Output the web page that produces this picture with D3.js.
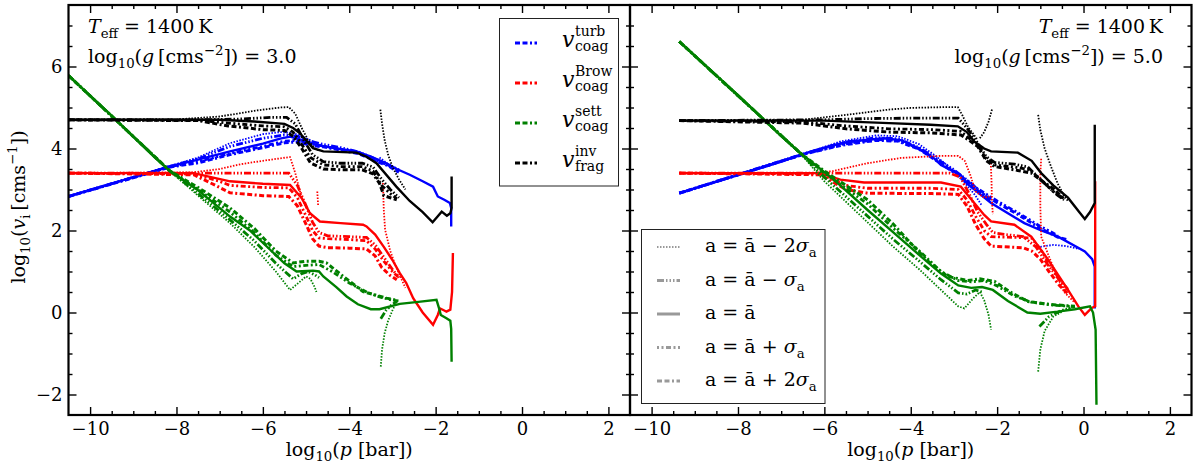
<!DOCTYPE html>
<html>
<head>
<meta charset="utf-8">
<script src="https://cdn.jsdelivr.net/npm/d3@7"></script>
<style>
  body { margin: 0; background: #fff; }
  svg text { font-family: 'DejaVu Serif', 'Liberation Serif', serif !important; fill: #000; }
</style>
</head>
<body>
<div class="chart"></div>
<script>
// line styles, in order: a-2s, a-s, a, a+s, a+2s  (null marks a gap)

// ---- log g = 3.0 ----
const g3Turb = [
  [[-10.5,2.83],[-8.14,3.57],[-7.5,3.78],[-6.76,4.13],[-6,4.35],[-5.6,4.4],[-5.3,4.38],[-5.0,4.25],[-4.8,4.15], null, [-3.3,3.78],[-3.1,3.62],[-2.9,3.5]],
  [[-10.5,2.83],[-8.14,3.57],[-7.5,3.75],[-6.76,4.05],[-6,4.25],[-5.5,4.33],[-5.2,4.3],[-4.9,4.18],[-4.6,4.1],[-4.2,4.02],[-3.8,3.92],[-3.4,3.75],[-3.1,3.6],[-2.85,3.48]],
  [[-10.5,2.83],[-8.14,3.57],[-7.5,3.73],[-6.76,3.93],[-6,4.12],[-5.6,4.24],[-5.37,4.29],[-5.0,4.18],[-4.76,4.09],[-4.3,4.0],[-3.83,3.93],[-3.5,3.8],[-3.14,3.64],[-2.9,3.5],[-2.6,3.36],[-2.3,3.2],[-2.06,3.07],[-1.95,2.83],[-1.8,2.75],[-1.67,2.67],[-1.64,2.55],[-1.64,2.1]],
  [[-10.5,2.83],[-8.14,3.56],[-7.5,3.68],[-6.76,3.88],[-6,4.05],[-5.5,4.18],[-5.2,4.2],[-4.9,4.12],[-4.6,4.06],[-4.2,3.98],[-3.8,3.9],[-3.4,3.72],[-3.1,3.6],[-2.85,3.45]],
  [[-10.5,2.83],[-8.14,3.55],[-7.5,3.65],[-6.76,3.85],[-6,4.02],[-5.5,4.14],[-5.2,4.16],[-4.9,4.08],[-4.6,4.04],[-4.2,3.96],[-3.8,3.88],[-3.4,3.7],[-3.1,3.58],[-2.85,3.42]]
];
const g3Brow = [
  [[-10.5,3.4],[-7.6,3.42],[-7,3.5],[-6.5,3.62],[-6,3.7],[-5.6,3.76],[-5.37,3.79],[-5.25,3.4],[-5.1,2.79],[-4.95,2.5],[-4.85,2.35], null, [-4.74,2.95],[-4.72,2.6], null, [-3.22,3.16],[-3.2,2.5],[-3.17,2.02],[-3.05,1.5],[-2.95,1.2],[-2.83,0.9],[-2.7,0.6]],
  [[-10.5,3.4],[-7,3.4],[-5.4,3.4],[-5.2,3.1],[-5.0,2.6],[-4.85,2.2],[-4.7,1.95],[-4.5,1.87],[-4.0,1.85],[-3.6,1.83],[-3.4,1.65],[-3.2,1.35],[-3.0,1.05],[-2.85,0.85]],
  [[-10.5,3.4],[-7.6,3.4],[-7.2,3.3],[-6.76,3.2],[-6,3.14],[-5.37,3.11],[-5.1,2.79],[-4.91,2.42],[-4.68,2.22],[-4.2,2.18],[-3.68,2.14],[-3.6,2.1],[-3.4,1.9],[-3.2,1.6],[-3.0,1.28],[-2.83,0.96],[-2.68,0.72],[-2.52,0.35],[-2.3,0.0],[-2.06,-0.3],[-1.95,-0.06],[-1.9,0.1],[-1.8,0.05],[-1.75,0.02],[-1.66,0.07],[-1.62,0.5],[-1.6,1.45]],
  [[-10.5,3.4],[-7.6,3.38],[-7,3.2],[-6.76,3.1],[-6,3.05],[-5.4,3.04],[-5.2,2.8],[-5.0,2.35],[-4.85,2.0],[-4.7,1.82],[-4.5,1.8],[-4.0,1.78],[-3.6,1.75],[-3.4,1.55],[-3.2,1.25],[-3.0,1.0],[-2.85,0.85]],
  [[-10.5,3.4],[-7.6,3.36],[-7,3.05],[-6.76,2.92],[-6,2.85],[-5.4,2.83],[-5.2,2.6],[-5.0,2.15],[-4.85,1.8],[-4.7,1.62],[-4.5,1.58],[-4.0,1.57],[-3.6,1.55],[-3.4,1.38],[-3.25,1.1],[-3.05,0.9],[-2.9,0.8]]
];
const g3Sett = [
  [[-10.5,5.78],[-8.15,3.45],[-7.5,2.85],[-6.76,2.18],[-6.2,1.6],[-5.7,1.0],[-5.37,0.55],[-5.2,0.7],[-5.0,0.88],[-4.9,0.82],[-4.8,0.62],[-4.76,0.5], null, [-3.27,-1.32],[-3.24,-0.9],[-3.18,-0.5],[-3.1,-0.2],[-3.0,0.05],[-2.9,0.27]],
  [[-10.5,5.78],[-8.15,3.45],[-7.5,2.9],[-6.76,2.26],[-6.2,1.75],[-5.7,1.2],[-5.3,0.82],[-5.1,0.95],[-4.95,1.0],[-4.8,0.92],[-4.7,0.85], null, [-3.27,-0.15],[-3.15,0.05],[-3.0,0.2],[-2.9,0.27]],
  [[-10.5,5.78],[-9.5,4.8],[-8.5,3.78],[-8.15,3.45],[-7.5,2.98],[-6.76,2.34],[-6.3,2.0],[-5.8,1.5],[-5.5,1.2],[-5.22,1.0],[-4.84,1.02],[-4.7,1.0],[-4.6,0.88],[-4.3,0.62],[-4.06,0.39],[-3.8,0.2],[-3.5,0.08],[-3.3,0.08],[-2.83,0.21],[-2.4,0.26],[-1.98,0.31],[-1.92,0.1],[-1.88,-0.06],[-1.75,-0.14],[-1.66,-0.2],[-1.64,-0.4],[-1.63,-1.2]],
  [[-10.5,5.78],[-8.15,3.45],[-7.5,3.0],[-6.76,2.45],[-6.2,1.95],[-5.7,1.4],[-5.3,1.12],[-5.0,1.15],[-4.7,1.17],[-4.4,1.0],[-4.0,0.72],[-3.6,0.5],[-3.3,0.38],[-3.0,0.3],[-2.85,0.28]],
  [[-10.5,5.78],[-8.15,3.45],[-7.5,3.05],[-6.76,2.55],[-6.2,2.05],[-5.7,1.5],[-5.3,1.21],[-5.0,1.25],[-4.7,1.25],[-4.53,1.21],[-4.1,0.85],[-3.68,0.51],[-3.14,0.35],[-2.9,0.3]]
];
const g3Frag = [
  [[-10.5,4.7],[-8,4.71],[-7,4.78],[-6.2,4.92],[-5.6,5.0],[-5.4,5.01],[-5.25,4.85],[-5.1,4.5],[-4.95,4.2],[-4.8,4.0],[-4.7,3.95], null, [-3.28,4.95],[-3.24,4.6],[-3.18,4.2],[-3.1,3.85],[-3.0,3.55],[-2.85,3.25],[-2.7,3.0]],
  [[-10.5,4.7],[-7.5,4.7],[-6.5,4.72],[-5.8,4.76],[-5.45,4.76],[-5.25,4.6],[-5.05,4.2],[-4.85,3.85],[-4.6,3.68],[-4.2,3.64],[-3.7,3.64],[-3.45,3.55],[-3.25,3.25],[-3.05,3.0],[-2.85,2.8]],
  [[-10.5,4.7],[-7,4.7],[-6.2,4.66],[-5.5,4.6],[-5.3,4.5],[-5.14,4.37],[-4.84,4.01],[-4.6,3.93],[-3.83,3.9],[-3.6,3.8],[-3.37,3.64],[-2.91,3.07],[-2.6,2.72],[-2.3,2.45],[-2.07,2.2],[-1.95,2.35],[-1.86,2.46],[-1.74,2.36],[-1.66,2.42],[-1.63,2.55],[-1.63,3.32]],
  [[-10.5,4.7],[-7.5,4.69],[-6.8,4.62],[-6,4.55],[-5.5,4.53],[-5.3,4.4],[-5.1,4.1],[-4.9,3.78],[-4.6,3.6],[-4.2,3.56],[-3.7,3.56],[-3.45,3.45],[-3.25,3.1],[-3.05,2.9],[-2.9,2.78]],
  [[-10.5,4.7],[-7.5,4.68],[-6.8,4.55],[-6,4.46],[-5.5,4.44],[-5.3,4.3],[-5.1,4.0],[-4.9,3.65],[-4.6,3.5],[-4.2,3.48],[-3.7,3.48],[-3.45,3.38],[-3.3,3.15],[-3.2,2.85],[-3.05,2.8],[-2.9,2.75]]
];

// ---- log g = 5.0 ----
const g5Turb = [
  [[-9.36,2.91],[-6.48,3.87],[-5.6,4.18],[-4.8,4.32],[-4.3,4.3],[-3.8,4.1],[-3.4,3.8],[-3.0,3.45],[-2.7,3.1],[-2.5,2.85],[-2.35,2.6], null, [-1.0,1.6],[-0.7,1.65],[-0.4,1.62],[-0.1,1.55]],
  [[-9.36,2.91],[-6.48,3.87],[-5.6,4.14],[-4.8,4.26],[-4.3,4.24],[-3.8,4.02],[-3.4,3.75],[-3.0,3.48],[-2.6,3.15],[-2.3,2.85],[-2.1,2.65]],
  [[-9.36,2.91],[-8,3.35],[-7,3.68],[-6.48,3.87],[-5.8,4.08],[-5.4,4.17],[-4.62,4.25],[-4.2,4.2],[-3.8,3.98],[-3.46,3.76],[-3.3,3.6],[-2.84,3.35],[-2.7,3.15],[-2.14,2.67],[-1.37,2.18],[-0.98,2.0],[-0.59,1.85],[0.03,1.49],[0.2,1.3],[0.26,1.12],[0.26,0.1]],
  [[-9.36,2.91],[-6.48,3.86],[-5.6,4.1],[-4.8,4.22],[-4.3,4.2],[-3.8,4.0],[-3.4,3.72],[-3.0,3.45],[-2.5,3.05],[-2.0,2.72],[-1.5,2.42],[-1.0,2.1],[-0.6,1.88]],
  [[-9.36,2.91],[-6.48,3.86],[-5.6,4.08],[-4.8,4.2],[-4.3,4.18],[-3.8,3.98],[-3.4,3.7],[-3.0,3.42],[-2.5,3.0],[-2.0,2.68],[-1.5,2.38],[-1.0,2.05],[-0.6,1.84],[-0.4,1.78]]
];
const g5Brow = [
  [[-9.36,3.4],[-6.3,3.4],[-5.8,3.45],[-5.01,3.64],[-4.23,3.77],[-3.3,3.82],[-2.9,3.82],[-2.75,3.7],[-2.62,3.35],[-2.5,2.95],[-2.3,2.8],[-2.18,2.83], null, [-2.15,3.72],[-2.13,3.2],[-2.12,2.7],[-2.1,2.4], null, [-0.98,3.75],[-1.0,3.4],[-1.0,2.6],[-0.98,1.85],[-0.7,1.1],[-0.45,0.5],[-0.2,0.24]],
  [[-9.36,3.4],[-3.1,3.4],[-2.85,3.3],[-2.65,2.9],[-2.45,2.45],[-2.25,2.15],[-2.1,1.95],[-1.8,1.9],[-1.4,1.85],[-1.1,1.6],[-0.85,1.2],[-0.6,0.85],[-0.4,0.55]],
  [[-9.36,3.4],[-6.1,3.4],[-5.63,3.24],[-5.08,3.17],[-4,3.17],[-3.3,3.17],[-2.84,3.07],[-2.53,2.67],[-2.3,2.38],[-2.14,2.22],[-1.6,2.14],[-1.21,1.85],[-0.82,1.29],[-0.36,0.55],[-0.12,0.15],[0.03,-0.06],[0.19,0.11],[0.27,0.15],[0.27,3.2]],
  [[-9.36,3.4],[-6.1,3.38],[-5.5,3.1],[-5.0,3.03],[-3.5,3.03],[-2.9,3.0],[-2.7,2.75],[-2.5,2.35],[-2.3,2.0],[-2.14,1.85],[-1.21,1.82],[-1.0,1.55],[-0.8,1.2],[-0.55,0.8],[-0.35,0.55]],
  [[-9.36,3.4],[-6.1,3.36],[-5.5,3.0],[-5.0,2.91],[-3.5,2.9],[-2.9,2.88],[-2.7,2.6],[-2.5,2.15],[-2.3,1.8],[-2.14,1.62],[-1.4,1.58],[-1.2,1.5],[-1.0,1.3],[-0.8,1.0],[-0.55,0.65],[-0.35,0.45]]
];
const g5Sett = [
  [[-9.36,6.61],[-6.56,3.89],[-6.0,3.2],[-5.0,2.2],[-4.4,1.6],[-3.8,1.05],[-3.3,0.55],[-2.9,0.15],[-2.76,0.1],[-2.55,0.35],[-2.4,0.5],[-2.3,0.3],[-2.2,-0.05],[-2.14,-0.42], null, [-1.05,-1.44],[-1.0,-0.9],[-0.9,-0.45],[-0.7,-0.1],[-0.45,0.05],[-0.2,0.15]],
  [[-9.36,6.61],[-6.56,3.89],[-6.0,3.3],[-5.0,2.35],[-4.4,1.78],[-3.8,1.25],[-3.3,0.8],[-2.9,0.48],[-2.7,0.45],[-2.5,0.55],[-2.35,0.5], null, [-1.02,-0.34],[-0.8,-0.1],[-0.5,0.05],[-0.2,0.15]],
  [[-9.36,6.61],[-8,5.3],[-7,4.3],[-6.56,3.89],[-5.78,3.24],[-5.0,2.5],[-4.39,1.94],[-3.8,1.4],[-3.3,0.95],[-2.9,0.66],[-2.6,0.6],[-2.35,0.62],[-2.1,0.55],[-1.75,0.28],[-1.3,0.0],[-1.0,-0.03],[-0.6,0.02],[-0.2,0.08],[0.15,0.15],[0.22,0.0],[0.28,-0.42],[0.3,-2.25]],
  [[-9.36,6.61],[-6.56,3.89],[-6.0,3.4],[-5.0,2.65],[-4.4,2.05],[-3.8,1.5],[-3.3,1.0],[-2.9,0.78],[-2.6,0.75],[-2.3,0.78],[-2.0,0.65],[-1.6,0.4],[-1.2,0.25],[-0.7,0.18],[-0.3,0.15]],
  [[-9.36,6.61],[-6.56,3.89],[-6.0,3.45],[-5.0,2.75],[-4.4,2.15],[-4.08,1.78],[-3.6,1.25],[-3.15,0.88],[-2.68,0.78],[-2.4,0.82],[-2.06,0.76],[-1.7,0.5],[-1.29,0.27],[-0.8,0.2],[-0.2,0.15]]
];
const g5Frag = [
  [[-9.36,4.68],[-6.5,4.7],[-5.5,4.82],[-4.5,4.95],[-4,4.99],[-3.2,5.01],[-2.91,5.01],[-2.8,4.8],[-2.68,4.54],[-2.55,4.35],[-2.45,4.21], null, [-2.12,4.95],[-2.2,4.65],[-2.3,4.4],[-2.4,4.25], null, [-1.05,4.82],[-1.0,4.45],[-0.9,4.0],[-0.75,3.55],[-0.6,3.15],[-0.45,2.85],[-0.36,2.72]],
  [[-9.36,4.68],[-6,4.7],[-5,4.73],[-4,4.74],[-2.9,4.74],[-2.7,4.5],[-2.45,4.13],[-2.25,3.8],[-2.06,3.66],[-1.6,3.62],[-1.29,3.55],[-1.05,3.3],[-0.8,3.05],[-0.59,2.85],[-0.45,2.75]],
  [[-9.36,4.68],[-6,4.68],[-4.5,4.62],[-3.54,4.58],[-2.91,4.54],[-2.7,4.4],[-2.53,4.17],[-2.3,4.0],[-2.14,3.93],[-1.52,3.9],[-1.2,3.7],[-0.98,3.4],[-0.7,3.1],[-0.36,2.8],[-0.1,2.45],[0.03,2.28],[0.15,2.45],[0.26,2.67],[0.26,4.58]],
  [[-9.36,4.68],[-6.5,4.65],[-5.5,4.55],[-4.5,4.48],[-3.5,4.46],[-2.85,4.42],[-2.65,4.25],[-2.45,4.08],[-2.25,3.75],[-2.06,3.6],[-1.6,3.55],[-1.25,3.48],[-1.0,3.25],[-0.7,2.95],[-0.45,2.78]],
  [[-9.36,4.68],[-6.5,4.62],[-5.5,4.48],[-4.5,4.4],[-3.5,4.38],[-2.84,4.33],[-2.65,4.2],[-2.45,4.05],[-2.25,3.7],[-2.06,3.56],[-1.6,3.48],[-1.21,3.4],[-0.95,3.2],[-0.67,3.0],[-0.44,2.75]]
];

const xMajorTicks = [-10, -8, -6, -4, -2, 0, 2];
const yMajorTicks = [-2, 0, 2, 4, 6];
const quantityNames = ['turb', 'Brow', 'sett', 'inv'];
const quantitySubs = ['coag', 'coag', 'coag', 'frag'];
const sizeLabels = ['a = ā − 2', 'a = ā − ', 'a = ā', 'a = ā + ', 'a = ā + 2'];
const gravityLabels = ['3.0', '5.0'];

const colors = ['#0000ff', '#ff0000', '#008000', '#000000'];
const dashes = ['1.5,1.5', '7,2,1.5,2,1.5,2,1.5,2', null, '2,2.5,2,2.5,5,2.5', '5,2.5,5,2.5,2,2.5'];
const widths = [1.8, 2.8, 2.4, 2.8, 3.0];
const serif = "'DejaVu Serif', 'Liberation Serif', serif";

const svg = d3.select('.chart').append('svg').attr('width', 1200).attr('height', 469)
  .attr('font-family', serif);

const plotTop = 5, plotBottom = 415;
const panels = [
  { x0: 68.5, x1: 630, data: [g3Turb, g3Brow, g3Sett, g3Frag] },
  { x0: 630, x1: 1191.5, data: [g5Turb, g5Brow, g5Sett, g5Frag] }
];

const fmt = (d) => (d < 0 ? '\u2212' + Math.abs(d) : '' + d);

// write text with italic / sub / sup pieces
function mathText(g, x, y, parts, size, anchor) {
  const t = g.append('text').attr('x', x).attr('y', y)
    .attr('font-family', serif)
    .attr('font-size', size).attr('text-anchor', anchor || 'start');
  let shift = 0;
  parts.forEach(([s, kind]) => {
    const sp = t.append('tspan').text(s);
    let target = 0;
    if (kind === 'sub') target = size * 0.28;
    if (kind === 'sup') target = -size * 0.4;
    if (target !== shift) sp.attr('dy', target - shift);
    shift = target;
    if (kind === 'sub' || kind === 'sup') sp.attr('font-size', size * 0.7);
    if (kind === 'i') sp.attr('font-style', 'italic');
  });
  return t;
}

panels.forEach((p, pi) => {
  const x = d3.scaleLinear().domain([-10.5, 2.5]).range([p.x0, p.x1]);
  const y = d3.scaleLinear().domain([-2.5, 7.5]).range([plotBottom, plotTop]);
  const g = svg.append('g');

  g.append('clipPath').attr('id', 'clip' + pi)
    .append('rect').attr('x', p.x0).attr('y', plotTop).attr('width', p.x1 - p.x0).attr('height', plotBottom - plotTop);

  const line = d3.line().defined((d) => d !== null).x((d) => x(d[0])).y((d) => y(d[1]));
  const plot = g.append('g').attr('clip-path', 'url(#clip' + pi + ')');

  // curves: per quantity, dashed styles first then the solid one
  p.data.forEach((curves, qi) => {
    [0, 1, 3, 4, 2].forEach((si) => {
      plot.append('path')
        .attr('d', line(curves[si]))
        .attr('fill', 'none')
        .attr('stroke', colors[qi])
        .attr('stroke-width', widths[si])
        .attr('stroke-dasharray', dashes[si]);
    });
  });

  // axes (ticks pointing inward on all four sides)
  const xMinor = d3.range(-20, 5).map((i) => i / 2).filter((v) => v % 2 !== 0);
  const yMinor = d3.range(-4, 15).map((i) => i / 2).filter((v) => v % 2 !== 0);

  const addAxis = (axis, tx, ty, labels) => {
    const a = g.append('g').attr('transform', `translate(${tx},${ty})`).call(axis);
    a.select('.domain').remove();
    a.selectAll('line').attr('stroke-width', 1.4);
    a.attr('font-family', serif).attr('font-size', 18);
    if (!labels) a.selectAll('text').remove();
  };
  addAxis(d3.axisBottom(x).tickValues(xMajorTicks).tickSizeInner(-8).tickSizeOuter(0).tickPadding(7).tickFormat(fmt), 0, plotBottom, true);
  addAxis(d3.axisBottom(x).tickValues(xMinor).tickSizeInner(-4).tickSizeOuter(0), 0, plotBottom, false);
  addAxis(d3.axisTop(x).tickValues(xMajorTicks).tickSizeInner(-8).tickSizeOuter(0), 0, plotTop, false);
  addAxis(d3.axisTop(x).tickValues(xMinor).tickSizeInner(-4).tickSizeOuter(0), 0, plotTop, false);
  addAxis(d3.axisLeft(y).tickValues(yMajorTicks).tickSizeInner(-8).tickSizeOuter(0).tickPadding(6).tickFormat(fmt), p.x0, 0, pi === 0);
  addAxis(d3.axisLeft(y).tickValues(yMinor).tickSizeInner(-4).tickSizeOuter(0), p.x0, 0, false);
  addAxis(d3.axisRight(y).tickValues(yMajorTicks).tickSizeInner(-8).tickSizeOuter(0), p.x1, 0, false);
  addAxis(d3.axisRight(y).tickValues(yMinor).tickSizeInner(-4).tickSizeOuter(0), p.x1, 0, false);

  g.append('rect').attr('x', p.x0).attr('y', plotTop).attr('width', p.x1 - p.x0).attr('height', plotBottom - plotTop)
    .attr('fill', 'none').attr('stroke', '#000').attr('stroke-width', 2.2);

  // x axis title
  mathText(g, (p.x0 + p.x1) / 2, 456, [['log', 'n'], ['10', 'sub'], ['(', 'n'], ['p', 'i'], [' [bar])', 'n']], 19, 'middle');

  // annotation
  const ax = pi === 0 ? 88 : 1163;
  const anchor = pi === 0 ? 'start' : 'end';
  mathText(g, ax, 33, [['T', 'i'], ['eff', 'sub'], [' = 1400\u2009K', 'n']], 19, anchor);
  mathText(g, ax, 63, [['log', 'n'], ['10', 'sub'], ['(', 'n'], ['g', 'i'], ['\u2009[cms', 'n'], ['\u22122', 'sup'], [']) = ' + gravityLabels[pi], 'n']], 19, anchor);
});

// y axis title
mathText(svg.append('g').attr('transform', 'translate(25,207) rotate(-90)'), 0, 0,
  [['log', 'n'], ['10', 'sub'], ['(', 'n'], ['v', 'i'], ['i', 'sub'], ['\u2009[cms', 'n'], ['\u22121', 'sup'], ['])', 'n']], 19, 'middle');

// legend: quantities
const leg1 = svg.append('g');
leg1.append('rect').attr('x', 499.5).attr('y', 18.5).attr('width', 119).attr('height', 167.5)
  .attr('fill', '#fff').attr('stroke', '#222').attr('stroke-width', 1);
quantityNames.forEach((name, i) => {
  const cy = 43 + i * 40;
  leg1.append('line').attr('x1', 515).attr('x2', 537).attr('y1', cy).attr('y2', cy)
    .attr('stroke', colors[i]).attr('stroke-width', 3).attr('stroke-dasharray', '5,2.5,5,2.5,2,2.5');
  leg1.append('text').attr('x', 562).attr('y', cy + 4).attr('font-family', serif).attr('font-size', 22).attr('font-style', 'italic').text('v');
  leg1.append('text').attr('x', 575).attr('y', cy - 7).attr('font-family', serif).attr('font-size', 14).text(name);
  leg1.append('text').attr('x', 575).attr('y', cy + 8).attr('font-family', serif).attr('font-size', 14).text(quantitySubs[i]);
});

// legend: size styles
const leg2 = svg.append('g');
leg2.append('rect').attr('x', 641.5).attr('y', 229.5).attr('width', 183.5).attr('height', 174)
  .attr('fill', '#fff').attr('stroke', '#222').attr('stroke-width', 1);
sizeLabels.forEach((lab, i) => {
  const cy = 247 + i * 33.5;
  leg2.append('line').attr('x1', 657).attr('x2', 680).attr('y1', cy).attr('y2', cy)
    .attr('stroke', '#999').attr('stroke-width', i === 2 ? 3 : widths[i]).attr('stroke-dasharray', dashes[i]);
  const parts = i === 2 ? [[lab, 'n']] : [[lab, 'n'], ['σ', 'i'], ['a', 'sub']];
  mathText(leg2, 705, cy + 5, parts, 19, 'start');
});
</script>
</body>
</html>
